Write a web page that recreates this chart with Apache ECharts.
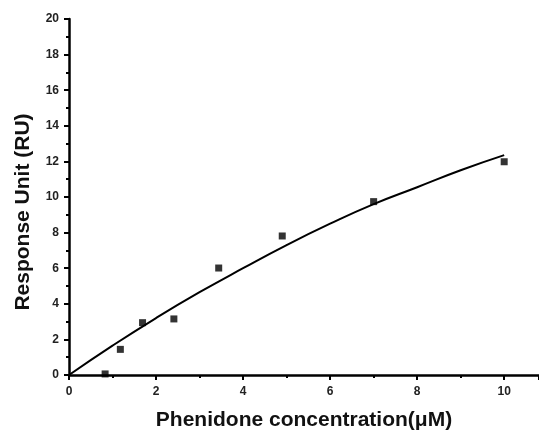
<!DOCTYPE html>
<html>
<head>
<meta charset="utf-8">
<script src="https://cdn.jsdelivr.net/npm/echarts@6/dist/echarts.min.js"></script>
<style>
  html, body { margin: 0; padding: 0; background: #fff; }
  #chart { width: 539px; height: 432px; }
</style>
</head>
<body>
<div id="chart"></div>
<script>
// measured points
var concX = [0.83, 1.18, 1.69, 2.41, 3.44, 4.90, 7.00, 10.00];
var responseY = [0.06, 1.44, 2.94, 3.15, 6.01, 7.81, 9.74, 11.98];
// fitted curve
var fitX = [0, 1, 2, 3, 4, 5, 6, 7, 8, 9, 10];
var fitY = [0, 1.65, 3.2, 4.65, 6.0, 7.3, 8.5, 9.6, 10.55, 11.5, 12.35];

var font = 'Liberation Sans, Arial, sans-serif';
var myChart = echarts.init(document.getElementById('chart'));

var axisCommon = {
	axisLine : { show : true, lineStyle : { color : '#000', width : 2.5 } },
	axisTick : { show : true, inside : false, length : 5, lineStyle : { color : '#000', width : 2 } },
	minorTick : { show : true, splitNumber : 2, length : 3, lineStyle : { color : '#000', width : 2 } },
	splitLine : { show : false },
	axisLabel : { color : '#222', fontFamily : font, fontWeight : 'bold', fontSize : 12 },
	nameLocation : 'middle',
	nameTextStyle : { color : '#111', fontFamily : font, fontWeight : 'bold', fontSize : 21 }
};

var option = {
	animation : false,
	grid : { left : 69, right : 0, top : 19, bottom : 57, outerBoundsMode : 'none', containLabel : false },
	xAxis : echarts.util.merge({
		type : 'value',
		min : 0,
		max : 10.8,
		interval : 2,
		name : 'Phenidone concentration(\u03bcM)',
		nameGap : 35,
		axisLabel : { margin : 11, showMaxLabel : false }
	}, axisCommon),
	yAxis : echarts.util.merge({
		type : 'value',
		min : 0,
		max : 20,
		interval : 2,
		name : 'Response Unit (RU)',
		nameGap : 35,
		nameTextStyle : { padding : [0, 30, 0, 0] },
		axisLabel : { margin : 10 }
	}, axisCommon),
	series : [ {
		type : 'line',
		data : fitX.map(function(x, i) { return [x, fitY[i]]; }),
		smooth : true,
		showSymbol : false,
		lineStyle : { color : '#000', width : 2 },
		z : 2
	}, {
		type : 'scatter',
		data : concX.map(function(x, i) { return [x, responseY[i]]; }),
		symbol : 'rect',
		symbolSize : 7,
		itemStyle : { color : '#000' },
		z : 3
	} ]
};
myChart.setOption(option);
</script>
</body>
</html>
